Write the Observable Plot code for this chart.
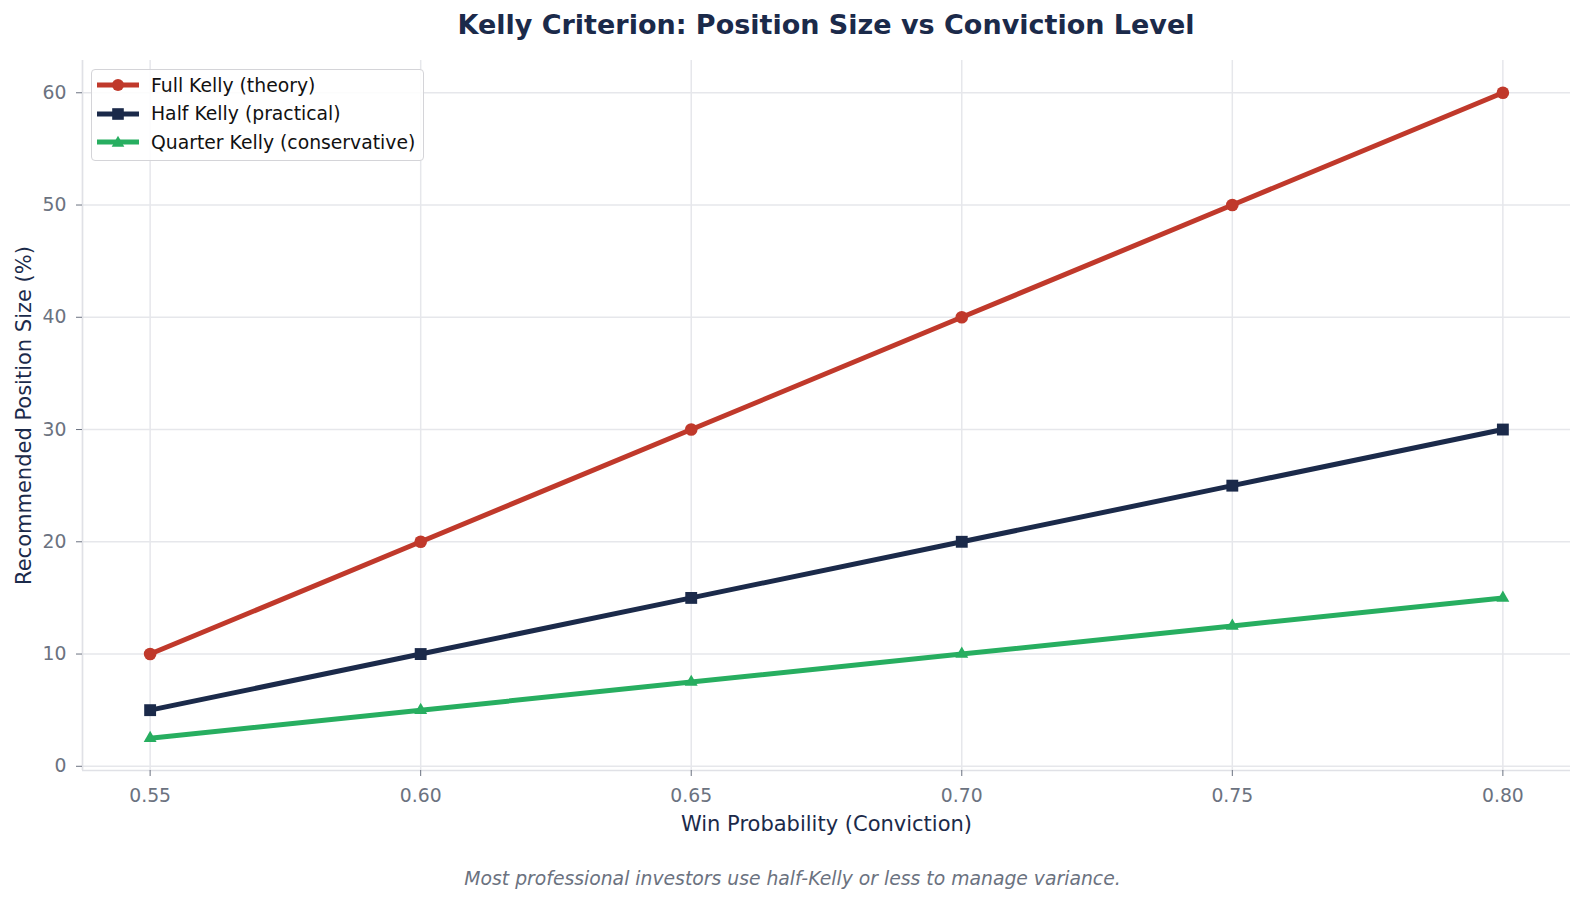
<!DOCTYPE html>
<html>
<head>
<meta charset="utf-8">
<script src="https://cdn.jsdelivr.net/npm/d3@7"></script>
<script src="https://cdn.jsdelivr.net/npm/@observablehq/plot@0.6"></script>
<style>
  html, body { margin: 0; padding: 0; background: #ffffff; }
  body { font-family: "DejaVu Sans", sans-serif; }
  #wrap { position: relative; width: 1585px; height: 902px; overflow: hidden; }
  #title { position: absolute; left: 82px; top: 0; width: 1488px; height: 50px; line-height: 50px;
           text-align: center; font-weight: bold; font-size: 27px; color: #1b2a4a; }
  #chart { position: absolute; left: 0; top: 50px; }
  #caption { position: absolute; left: 0; top: 860px; width: 1585px; line-height: 38px;
             text-align: center; font-style: italic; font-size: 18.8px; color: #6b7280; }
  #legend { position: absolute; left: 91px; top: 69px; width: 326px; height: 89px;
            border: 1px solid #d4d4d8; border-radius: 4px; background: rgba(255,255,255,0.85);
            padding: 1px 0 0 5px; box-sizing: content-box; }
  .lrow { height: 28.5px; display: flex; align-items: center; font-size: 18.8px; color: #111111; white-space: nowrap; }
  .lrow svg { flex: none; margin-right: 12px; }
  g[aria-label="x-axis label"] text, g[aria-label="y-axis label"] text { fill: #1b2a4a; font-size: 21px; }
</style>
</head>
<body>
<div id="wrap">
  <div id="title">Kelly Criterion: Position Size vs Conviction Level</div>
  <div id="chart"></div>
  <div id="legend"></div>
  <div id="caption">Most professional investors use half-Kelly or less to manage variance.</div>
</div>
<script>
// ---- data ----
const winProb = [0.55, 0.60, 0.65, 0.70, 0.75, 0.80];
const fullKelly = [10, 20, 30, 40, 50, 60];
const halfKelly = [5, 10, 15, 20, 25, 30];
const quarterKelly = [2.5, 5, 7.5, 10, 12.5, 15];
const seriesNames = ["Full Kelly (theory)", "Half Kelly (practical)", "Quarter Kelly (conservative)"];
const seriesColors = ["#c0392b", "#1b2a4a", "#27ae60"];
const xTicks = [0.55, 0.60, 0.65, 0.70, 0.75, 0.80];
const yTicks = [0, 10, 20, 30, 40, 50, 60];
const xLabel = "Win Probability (Conviction)";
const yLabel = "Recommended Position Size (%)";

// ---- build ----
const seriesValues = [fullKelly, halfKelly, quarterKelly];
const rows = [];
seriesNames.forEach((name, i) => {
  winProb.forEach((p, j) => rows.push({ p, v: seriesValues[i][j], series: name }));
});
const xDomain = [0.5375, 0.8125];
const yDomain = [-0.375, 62.875];
const symbols = ["circle", "square", "triangle"];
const symbolR = [6.3, 6.7, 4.8];
const gridColor = "#e6e7eb";
const spineColor = "#e0e1e6";

const dotMarks = seriesNames.map((name, i) =>
  Plot.dot(rows.filter(d => d.series === name), {
    x: "p", y: "v", fill: "series", symbol: () => symbols[i], r: symbolR[i], stroke: "none"
  })
);

const chart = Plot.plot({
  width: 1585,
  height: 810,
  marginLeft: 82,
  marginRight: 15,
  marginTop: 10,
  marginBottom: 90,
  style: { fontFamily: "DejaVu Sans, sans-serif", fontSize: "18.8px", color: "#6b7280", background: "white", overflow: "visible" },
  x: { domain: xDomain },
  y: { domain: yDomain },
  color: { domain: seriesNames, range: seriesColors },
  symbol: { domain: symbols, range: symbols },
  marks: [
    Plot.gridX(xTicks, { stroke: gridColor, strokeOpacity: 1, strokeWidth: 1.5 }),
    Plot.gridY(yTicks, { stroke: gridColor, strokeOpacity: 1, strokeWidth: 1.5 }),
    Plot.ruleX([xDomain[0]], { stroke: spineColor, strokeWidth: 1.7 }),
    Plot.ruleY([yDomain[0]], { stroke: spineColor, strokeWidth: 1.7 }),
    Plot.axisX({ ticks: xTicks, tickFormat: d3.format(".2f"), tickSize: 6, tickPadding: 12,
      label: xLabel, labelAnchor: "center", labelOffset: 60, labelArrow: "none", fontSize: 18.8 }),
    Plot.axisY({ ticks: yTicks, tickFormat: d3.format("d"), tickSize: 6, tickPadding: 10,
      label: yLabel, labelAnchor: "center", labelOffset: 66, labelArrow: "none", fontSize: 18.8 }),
    Plot.line(rows, { x: "p", y: "v", z: "series", stroke: "series", strokeWidth: 5,
      strokeLinecap: "round", strokeLinejoin: "round" }),
    ...dotMarks
  ]
});
document.getElementById("chart").appendChild(chart);

// ---- legend ----
const legend = document.getElementById("legend");
seriesNames.forEach((name, i) => {
  const row = document.createElement("div");
  row.className = "lrow";
  const c = seriesColors[i];
  let marker;
  if (symbols[i] === "circle") marker = `<circle cx="21" cy="10" r="6" fill="${c}"/>`;
  else if (symbols[i] === "square") marker = `<rect x="15.2" y="4.2" width="11.6" height="11.6" fill="${c}"/>`;
  else marker = `<path d="M21,3.8 L27.3,14.8 L14.7,14.8 Z" fill="${c}"/>`;
  row.innerHTML = `<svg width="42" height="20"><line x1="0" y1="10" x2="42" y2="10" stroke="${c}" stroke-width="5"/>${marker}</svg><span>${name}</span>`;
  legend.appendChild(row);
});
</script>
</body>
</html>
